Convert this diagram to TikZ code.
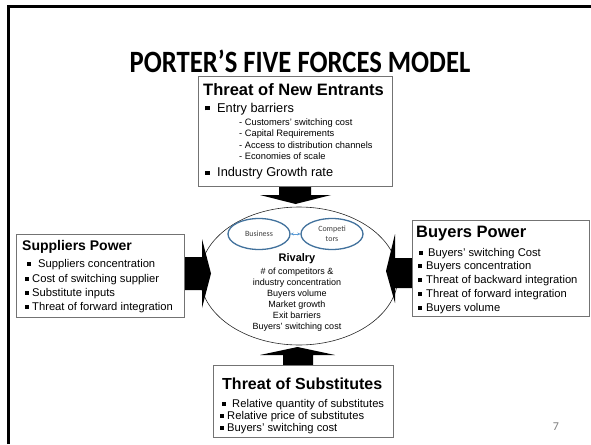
\documentclass[tikz,border=0pt]{standalone}
\usepackage{fontspec}
\setmainfont{Liberation Sans}
\newfontfamily\titlefont{Carlito}
\usetikzlibrary{shapes.geometric,arrows.meta}

\definecolor{ovalblue}{HTML}{41719C}
\definecolor{linkblue}{HTML}{5B9BD5}
\definecolor{labelgray}{HTML}{404040}

% square bullet followed by a fixed gap
\newcommand{\sqb}{\rule[0.12em]{0.34em}{0.34em}}
\newcommand{\itm}[2]{\makebox[#1][l]{\sqb}#2}

\begin{document}
\begin{tikzpicture}[x=1pt,y=-1pt,
  forcebox/.style={draw=black!55, line width=0.8pt, fill=white, inner sep=0pt, anchor=north west},
  boxtitle/.style={anchor=base west, inner sep=0pt, font=\fontsize{16.5}{18}\selectfont\bfseries},
  itemtext/.style={anchor=base west, inner sep=0pt, font=\fontsize{11.2}{13}\selectfont},
  subtext/.style={anchor=base west, inner sep=0pt, font=\fontsize{9.3}{11}\selectfont},
  rivtext/.style={anchor=base, inner sep=0pt, font=\fontsize{9}{11}\selectfont},
  blockarrow/.style={fill=black},
  inneroval/.style={ellipse, draw=ovalblue, line width=1.3pt, inner sep=0pt,
    minimum width=62pt, minimum height=31pt, align=center,
    font=\titlefont\fontsize{8}{9.5}\selectfont, text=labelgray}
]
\useasboundingbox (0,0) rectangle (591,444);

% slide frame (top and left edges)
\draw[line width=3pt, line join=miter] (8.5,444) -- (8.5,6.5) -- (591,6.5);

% heading
\node[font=\titlefont\bfseries\fontsize{31}{36}\selectfont, inner sep=0pt] (title) at (300,61)
  {\scalebox{0.86}[1]{PORTER’S FIVE FORCES MODEL}};

% central rivalry oval
\node[ellipse, draw=black!85, line width=0.6pt, minimum width=198pt, minimum height=138pt] (rivalry) at (299,276) {};

% block arrows pointing at the rivalry oval
\fill[blockarrow] (279,186) -- (311,186) -- (311,195) -- (331,195) -- (295.5,204) -- (260,195) -- (279,195) -- cycle;
\fill[blockarrow] (184,257) -- (202,257) -- (202,239) -- (211,273.5) -- (202,308) -- (202,290) -- (184,290) -- cycle;
\fill[blockarrow] (412,258) -- (395,258) -- (395,234) -- (386,271) -- (395,303) -- (395,288) -- (412,288) -- cycle;
\fill[blockarrow] (283,365) -- (283,355) -- (260,355) -- (297.5,347) -- (335,355) -- (313,355) -- (313,365) -- cycle;

% the four force boxes
\node[forcebox, minimum width=194pt, minimum height=110pt] (entrants) at (198,76) {};
\node[forcebox, minimum width=168pt, minimum height=83pt] (suppliers) at (16,234) {};
\node[forcebox, minimum width=177pt, minimum height=96pt] (buyers) at (412,220) {};
\node[forcebox, minimum width=180pt, minimum height=72pt] (substitutes) at (213,365) {};

% Threat of New Entrants
\node[boxtitle] (entT) at (203,95) {Threat of New Entrants};
\node[itemtext, font=\fontsize{12.8}{14}\selectfont] (ent1) at (205,112) {\itm{12pt}{Entry barriers}};
\node[subtext] (ent1a) at (239,125) {- Customers’ switching cost};
\node[subtext] (ent1b) at (239,136.5) {- Capital Requirements};
\node[subtext] (ent1c) at (239,148) {- Access to distribution channels};
\node[subtext] (ent1d) at (239,159.5) {- Economies of scale};
\node[itemtext, font=\fontsize{12.8}{14}\selectfont] (ent2) at (205,176.5) {\itm{12pt}{Industry Growth rate}};

% Suppliers Power
\node[boxtitle, font=\fontsize{14}{16}\selectfont\bfseries] (supT) at (22,250) {Suppliers Power};
\node[itemtext] (sup1) at (27,267) {\itm{11pt}{Suppliers concentration}};
\node[itemtext] (sup2) at (25,282) {\itm{7pt}{Cost of switching supplier}};
\node[itemtext] (sup3) at (25,296) {\itm{7pt}{Substitute inputs}};
\node[itemtext] (sup4) at (25,310) {\itm{7pt}{Threat of forward integration}};

% Buyers Power
\node[boxtitle] (buyT) at (416,237) {Buyers Power};
\node[itemtext] (buy1) at (419,256) {\itm{9pt}{Buyers’ switching Cost}};
\node[itemtext] (buy2) at (418,269.5) {\itm{8pt}{Buyers concentration}};
\node[itemtext] (buy3) at (418,283.5) {\itm{8pt}{Threat of backward integration}};
\node[itemtext] (buy4) at (418,297.5) {\itm{8pt}{Threat of forward integration}};
\node[itemtext] (buy5) at (418,311) {\itm{8pt}{Buyers volume}};

% Threat of Substitutes
\node[boxtitle, font=\fontsize{16}{18}\selectfont\bfseries] (subT) at (222,389) {Threat of Substitutes};
\node[itemtext] (sub1) at (222,407) {\itm{10pt}{Relative quantity of substitutes}};
\node[itemtext] (sub2) at (220,419) {\itm{7pt}{Relative price of substitutes}};
\node[itemtext] (sub3) at (220,431) {\itm{7pt}{Buyers’ switching cost}};

% business vs competitors inside the rivalry oval
\node[inneroval] (business) at (259,234) {Business};
\node[inneroval] (competitors) at (332,234) {Competi\\tors};
\draw[linkblue, line width=0.8pt, {Stealth[length=3pt,width=3pt]}-{Stealth[length=3pt,width=3pt]}]
  (business.east) -- (competitors.west);

% rivalry factors
\node[anchor=base, inner sep=0pt, font=\fontsize{11}{13}\selectfont\bfseries] (rivT) at (297,261) {Rivalry};
\node[rivtext] (riv1) at (297,274) {\# of competitors \&};
\node[rivtext] (riv2) at (297,285) {industry concentration};
\node[rivtext] (riv3) at (297,296) {Buyers volume};
\node[rivtext] (riv4) at (297,307) {Market growth};
\node[rivtext] (riv5) at (297,318) {Exit barriers};
\node[rivtext] (riv6) at (297,329) {Buyers’ switching cost};

% slide number
\node[font=\titlefont\fontsize{12}{14}\selectfont, text=black!50, inner sep=0pt] (pagenum) at (556,427) {7};
\end{tikzpicture}
\end{document}
